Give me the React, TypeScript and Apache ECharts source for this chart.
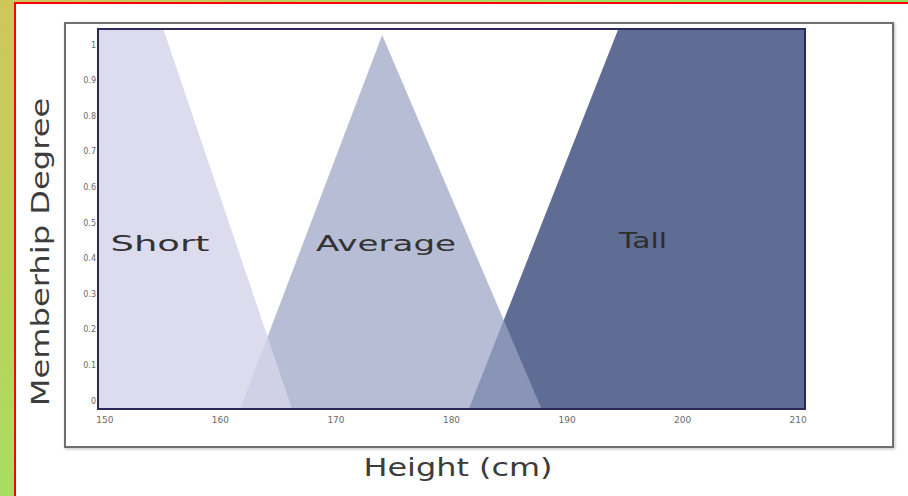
import React, { useEffect, useRef } from "react";
import * as echarts from "echarts";

// Tick labels
const X_TICKS = [150, 160, 170, 180, 190, 200, 210];
const Y_TICKS = [0, 0.1, 0.2, 0.3, 0.4, 0.5, 0.6, 0.7, 0.8, 0.9, 1];

// Membership shapes (height cm, degree)
const SHORT = [
  [149, 1.05],
  [155, 1.05],
  [166.2, -0.022],
];
const AVERAGE = [
  [161.7, -0.022],
  [174, 1.028],
  [187.8, -0.022],
];
const TALL = [
  [181.5, -0.022],
  [194.5, 1.05],
  [211, 1.05],
];

const LABELS = ["Short", "Average", "Tall"];

const FONT = "DejaVu Sans";

export default function App() {
  const ref = useRef<HTMLDivElement>(null);

  useEffect(() => {
    document.body.style.margin = "0";
    if (!ref.current) return;
    const chart = echarts.init(ref.current, null, { renderer: "svg" });

    const area = (name: string, data: number[][], color: string) => ({
      type: "line",
      name,
      data,
      symbol: "none",
      clip: true,
      lineStyle: { width: 0, opacity: 0 },
      areaStyle: { color, opacity: 1, origin: "start" },
      silent: true,
    });

    const wideText = (
      text: string,
      x: number,
      y: number,
      size: number,
      color: string,
      rotation = 0,
      scale = 1.3
    ) => ({
      type: "text",
      x,
      y,
      rotation,
      scaleX: scale,
      scaleY: 1,
      z: 100,
      style: {
        text,
        fontSize: size,
        fontFamily: FONT,
        fill: color,
        align: "center",
        verticalAlign: "middle",
      },
    });

    chart.setOption({
      animation: false,
      backgroundColor: "transparent",
      grid: { left: 98, top: 29, right: 103, bottom: 87, show: false },
      xAxis: {
        type: "value",
        min: 149.4,
        max: 210.6,
        axisLine: { show: false },
        axisTick: { show: false },
        splitLine: { show: false },
        axisLabel: {
          customValues: X_TICKS,
          fontSize: 9,
          color: "#6a6a6a",
          fontFamily: FONT,
          margin: 6,
        },
      },
      yAxis: {
        type: "value",
        min: -0.022,
        max: 1.045,
        axisLine: { show: false },
        axisTick: { show: false },
        splitLine: { show: false },
        axisLabel: {
          customValues: Y_TICKS,
          fontSize: 8,
          color: "#6a6a6a",
          fontFamily: FONT,
          margin: 2,
          formatter: (v: number) => String(v),
        },
      },
      series: [
        area("Tall", TALL, "#5f6c93"),
        area("Average", AVERAGE, "rgba(155,163,195,0.72)"),
        area("Short", SHORT, "rgba(213,212,234,0.82)"),
      ],
      graphic: [
        {
          type: "rect",
          z: -10,
          shape: { x: 15, y: 3, width: 905, height: 505 },
          style: { fill: "#ffffff", stroke: "#ff0000", lineWidth: 2 },
        },
        {
          type: "rect",
          z: -9,
          shape: { x: 65, y: 23, width: 828, height: 424 },
          style: {
            fill: "#ffffff",
            stroke: "#707070",
            lineWidth: 2,
            shadowBlur: 3,
            shadowColor: "rgba(0,0,0,0.25)",
            shadowOffsetX: 1,
            shadowOffsetY: 1,
          },
        },
        {
          type: "rect",
          z: 100,
          shape: { x: 98, y: 29, width: 707, height: 380 },
          style: { fill: "none", stroke: "#2c2a5c", lineWidth: 2 },
        },
        wideText("Memberhip Degree", 41, 252, 24, "#3c3c3c", Math.PI / 2, 1.34),
        wideText("Height (cm)", 458, 468, 24, "#3c3c3c", 0, 1.33),
        wideText(LABELS[0], 160, 243, 22, "#333333", 0, 1.68),
        wideText(LABELS[1], 386, 243, 22, "#333333", 0, 1.55),
        wideText(LABELS[2], 643, 240, 22, "#2e2e2e", 0, 1.35),
      ],
    });

    return () => chart.dispose();
  }, []);

  return (
    <div
      style={{
        position: "relative",
        width: 908,
        height: 496,
        overflow: "hidden",
        background:
          "radial-gradient(circle at 0 0, #cfc65a 0%, #b8d35d 30%, #a2e163 55%, #8fe05b 100%)",
      }}
    >
      <div ref={ref} style={{ position: "absolute", left: 0, top: 0, width: 908, height: 496 }} />
    </div>
  );
}
